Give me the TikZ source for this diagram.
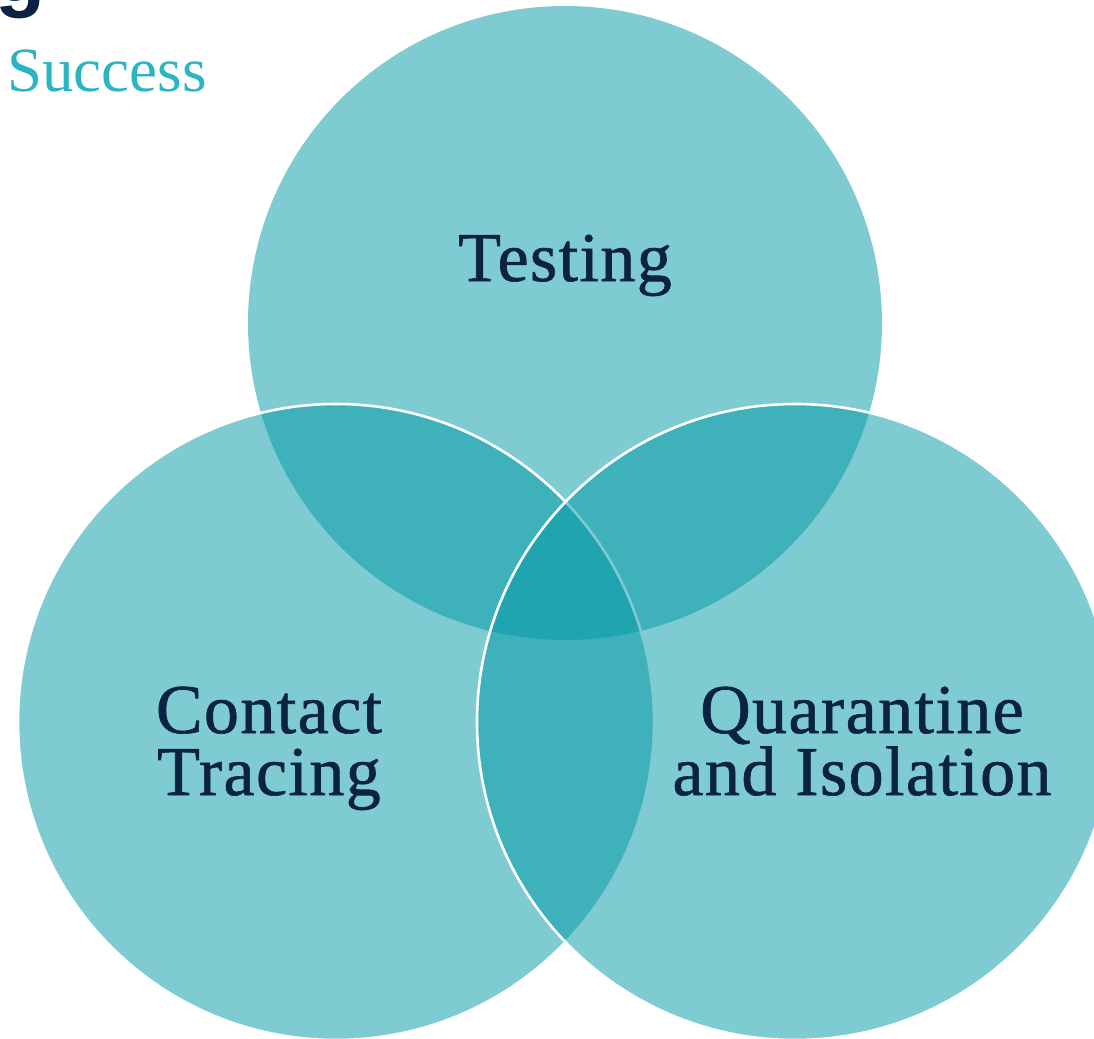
\documentclass[tikz,border=0pt]{standalone}
\usepackage{fontspec}
\newfontfamily\labelfont[FakeBold=0.9,LetterSpace=2]{Liberation Serif}
\newfontfamily\titlefont{Liberation Serif}
\newfontfamily\headfont{Liberation Sans}
\definecolor{circfill}{HTML}{0097A5}
\definecolor{navy}{HTML}{0B2340}
\definecolor{tealtext}{HTML}{2BB5C2}
\begin{document}
\begin{tikzpicture}[x=1pt,y=-1pt,
  vcircle/.style={fill=circfill,fill opacity=0.5},
  vcircleline/.style={vcircle,draw=white,draw opacity=1,line width=2.6pt},
  vlabel/.style={text=navy,font=\labelfont\fontsize{70}{62}\selectfont,align=center,inner sep=0pt,anchor=base},
  ]
\useasboundingbox (0,0) rectangle (1094,1038);
\clip (0,0) rectangle (1094,1038);
% circles
\path[vcircle] (565,323) circle[radius=317];
\path[vcircleline] (336,722) circle[radius=318];
\path[vcircleline] (795,722) circle[radius=318];
% partial heading letter
\node[text=navy,font=\headfont\fontsize{82}{82}\selectfont\bfseries,anchor=base west,inner sep=0pt] (head) at (-5,2) {g};
\node[text=tealtext,font=\titlefont\fontsize{63}{63}\selectfont,anchor=base west,inner sep=0pt] (success) at (7,92) {Success};
% labels
\node[vlabel] (testing) at (565,281) {Testing};
\node[vlabel] (contact) at (269,795) {Contact\\Tracing};
\node[vlabel] (quarantine) at (862,795) {Quarantine\\and Isolation};
\end{tikzpicture}
\end{document}
